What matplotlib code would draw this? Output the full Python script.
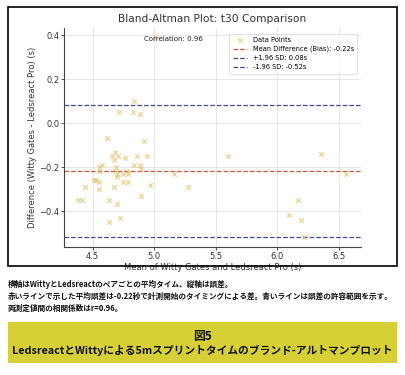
import matplotlib
matplotlib.use("Agg")
import matplotlib.pyplot as plt
from matplotlib.patches import Rectangle

# ---- data ----
mean_vals = [4.835, 4.716, 4.830, 4.886, 5.01, 4.616, 4.916, 4.686, 4.654, 4.708,
             4.862, 4.940, 4.675, 4.762, 4.573, 4.551, 4.837, 4.884, 4.689, 4.559,
             4.892, 4.681, 4.700, 4.748, 4.784, 4.697, 5.159, 4.508, 4.530, 4.554,
             4.746, 4.784, 4.967, 4.435, 4.675, 5.278, 4.554, 4.892, 4.381, 4.410,
             4.635, 4.697, 4.724, 4.635, 5.605, 6.357, 6.560, 6.173, 6.098, 6.197,
             6.216, 4.778]
diff_vals = [0.10, 0.05, 0.05, 0.04, 0.39, -0.07, -0.08, -0.13, -0.15, -0.15,
             -0.15, -0.15, -0.17, -0.16, -0.19, -0.20, -0.19, -0.19, -0.20, -0.22,
             -0.21, -0.22, -0.23, -0.23, -0.23, -0.245, -0.23, -0.26, -0.26, -0.27,
             -0.27, -0.27, -0.28, -0.29, -0.29, -0.29, -0.30, -0.33, -0.35, -0.35,
             -0.35, -0.37, -0.43, -0.45, -0.15, -0.14, -0.23, -0.35, -0.42, -0.44,
             -0.52, -0.22]
bias = -0.22
upper_loa = 0.08
lower_loa = -0.52
correlation = 0.96

title = "Bland-Altman Plot: t30 Comparison"
xlabel = "Mean of Witty Gates and Ledsreact Pro (s)"
ylabel = "Difference (Witty Gates - Ledsreact Pro) (s)"
caption_lines = [
    "横軸はWittyとLedsreactのペアごとの平均タイム、縦軸は誤差。",
    "赤いラインで示した平均誤差は-0.22秒で計測開始のタイミングによる差。青いラインは誤差の許容範囲を示す。",
    "両測定値間の相関係数はr=0.96。",
]
fig_title_lines = ["図5", "LedsreactとWittyによる5mスプリントタイムのブランド-アルトマンプロット"]

W, H = 405, 375
fig = plt.figure(figsize=(W / 100, H / 100), dpi=100)
fig.patch.set_facecolor("white")

# outer border of the chart image
fig.add_artist(Rectangle((8 / W, 1 - 266 / H), (397 - 8) / W, (266 - 7) / H,
                         transform=fig.transFigure, fill=False, edgecolor="black",
                         linewidth=1.2))

ax = fig.add_axes([64.3 / W, 1 - 247.3 / H, (360.7 - 64.3) / W, (247.3 - 28) / H])
ax.scatter(mean_vals, diff_vals, marker="x", color="#e6bb55", alpha=0.75, s=10,
           linewidths=0.8, label="Data Points", zorder=3)
ax.axhline(bias, color="#d0563a", linestyle="--", linewidth=0.9,
           label=f"Mean Difference (Bias): {bias:.2f}s")
ax.axhline(upper_loa, color="#45459a", linestyle="--", linewidth=0.9,
           label=f"+1.96 SD: {upper_loa:.2f}s")
ax.axhline(lower_loa, color="#45459a", linestyle="--", linewidth=0.9,
           label=f"-1.96 SD: {lower_loa:.2f}s")

ax.set_xlim(4.27, 6.68)
ax.set_ylim(-0.565, 0.432)
ax.set_xticks([4.5, 5.0, 5.5, 6.0, 6.5])
ax.set_yticks([-0.4, -0.2, 0.0, 0.2, 0.4])
ax.set_yticklabels(["\u22120.4", "\u22120.2", "0.0", "0.2", "0.4"])
ax.grid(True, color="#dddddd", linewidth=0.5)
ax.set_axisbelow(True)
for s in ["top", "right"]:
    ax.spines[s].set_visible(False)
for s in ["left", "bottom"]:
    ax.spines[s].set_color("#444444")
    ax.spines[s].set_linewidth(0.8)
ax.tick_params(labelsize=6, length=2, width=0.6, pad=1.5, colors="#333333")
ax.set_title(title, fontsize=7.7, color="#333333", pad=4)
ax.set_xlabel(xlabel, fontsize=6, color="#333333", labelpad=1)
ax.set_ylabel(ylabel, fontsize=6, color="#333333", labelpad=2)
ax.text(0.367, 0.95, f"Correlation: {correlation:.2f}", transform=ax.transAxes,
        ha="center", va="center", fontsize=5, color="#222222", zorder=5)
leg = ax.legend(loc="upper right", fontsize=4.8, frameon=True, borderpad=0.5,
                handlelength=2.2, labelspacing=0.45, bbox_to_anchor=(1.0, 0.99))
leg.get_frame().set_edgecolor("#cccccc")
leg.get_frame().set_linewidth(0.5)

jp = ["Noto Sans CJK JP", "DejaVu Sans"]
renderer = fig.canvas.get_renderer()


def fit_size(text, target_px, base=8.0):
    t = fig.text(0, 0, text, fontsize=base, fontweight="bold", family=jp)
    w = t.get_window_extent(renderer=renderer).width
    t.remove()
    return base * target_px / w


cap_size = fit_size(caption_lines[1], 388)
ys = [284, 296.5, 308.5]
for line, y in zip(caption_lines, ys):
    fig.text(8 / W, 1 - y / H, line, fontsize=cap_size, fontweight="bold", family=jp,
             ha="left", va="center", color="#111111")

fig.add_artist(Rectangle((8 / W, 1 - 363 / H), (397 - 8) / W, (363 - 322) / H,
                         transform=fig.transFigure, facecolor="#d6cf35",
                         edgecolor="none"))
ttl_size = fit_size(fig_title_lines[1], 380)
fig.text(202 / W, 1 - 336.5 / H, fig_title_lines[0], fontsize=ttl_size * 1.1,
         fontweight="bold", family=jp, ha="center", va="center", color="#111111")
fig.text(202 / W, 1 - 350.5 / H, fig_title_lines[1], fontsize=ttl_size, fontweight="bold",
         family=jp, ha="center", va="center", color="#111111")

fig.savefig("out.png", dpi=100)
